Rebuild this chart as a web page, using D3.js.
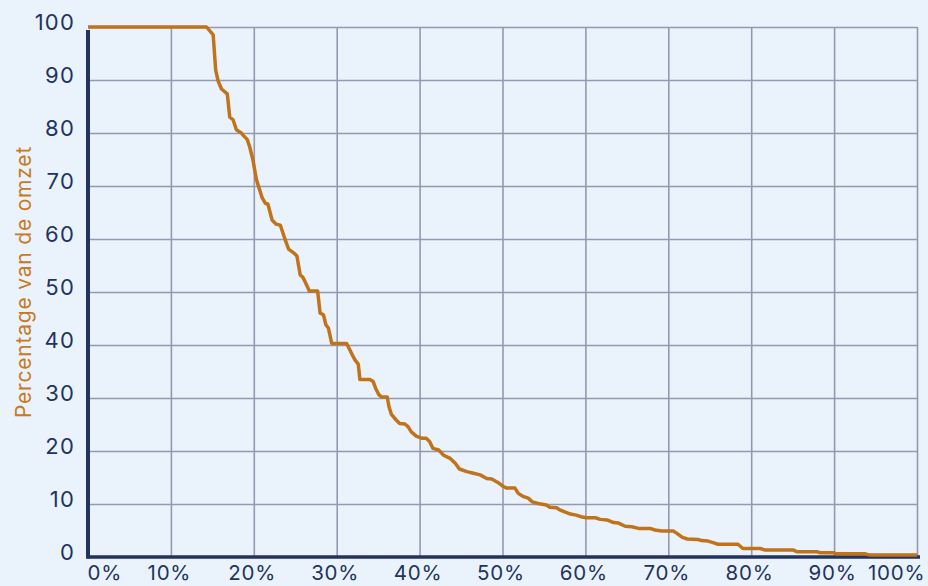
<!DOCTYPE html>
<html>
<head>
<meta charset="utf-8">
<script src="https://cdn.jsdelivr.net/npm/d3@7"></script>
<style>
  html, body { margin: 0; padding: 0; background: #eaf3fb; }
  #chart { width: 928px; height: 586px; }
  text { font-family: Inter, "Open Sans", sans-serif; }
</style>
</head>
<body>
<div id="chart"></div>
<script>
// Share of customers (x, %) vs share of turnover (y, %)
const xPct = [0, 14.3, 15.1, 15.4, 15.7, 16.1, 16.8, 17.1, 17.5, 17.9, 18.5, 18.7, 19.2, 19.5, 19.9,
  20.3, 21.0, 21.4, 21.7, 22.2, 22.7, 23.2, 23.8, 24.2, 24.8, 25.2, 25.6, 25.9, 26.2, 26.7, 27.7,
  28.0, 28.4, 28.7, 29.0, 29.4, 31.2, 31.8, 32.2, 32.6, 32.8, 34.0, 34.4, 34.7, 35.1, 35.4, 36.1,
  36.3, 36.6, 37.2, 37.6, 38.2, 38.6, 39.0, 39.6, 40.3, 40.8, 41.2, 41.6, 42.3, 42.9, 43.3, 43.7,
  44.3, 44.8, 45.7, 46.5, 47.3, 48.1, 48.7, 49.6, 50.1, 50.5, 51.5, 51.9, 52.4, 53.1, 53.6, 54.3,
  55.3, 55.7, 56.5, 56.9, 57.5, 58.2, 58.9, 59.5, 60.1, 61.2, 61.8, 62.6, 63.4, 64.0, 64.8, 65.6,
  66.4, 67.8, 68.4, 69.2, 70.6, 71.0, 71.7, 72.3, 73.6, 74.0, 74.8, 75.4, 76.0, 78.4, 79.0, 81.1,
  81.7, 85.1, 85.5, 87.9, 88.3, 89.9, 90.3, 93.7, 94.2, 100];
const yOmzet = [100, 100, 98.5, 91.9, 89.8, 88.3, 87.4, 83.0, 82.5, 80.6, 80.0, 79.6, 78.8, 77.4, 74.9,
  71.3, 67.8, 66.7, 66.6, 63.6, 62.8, 62.6, 59.8, 58.1, 57.4, 56.8, 53.2, 52.8, 51.9, 50.2, 50.2,
  46.0, 45.7, 43.8, 43.2, 40.3, 40.3, 38.4, 37.2, 36.4, 33.5, 33.5, 33.1, 31.8, 30.6, 30.2, 30.2,
  28.4, 26.9, 25.8, 25.2, 25.1, 24.6, 23.6, 22.8, 22.4, 22.4, 21.8, 20.5, 20.2, 19.2, 18.9, 18.6,
  17.7, 16.6, 16.1, 15.8, 15.5, 14.8, 14.7, 13.9, 13.3, 13.0, 13.0, 12.0, 11.5, 11.1, 10.4, 10.1,
  9.8, 9.4, 9.3, 8.9, 8.5, 8.1, 7.9, 7.6, 7.4, 7.4, 7.1, 7.0, 6.5, 6.4, 5.8, 5.7,
  5.4, 5.4, 5.1, 4.9, 4.9, 4.5, 3.7, 3.4, 3.3, 3.1, 3.0, 2.7, 2.4, 2.4, 1.6, 1.6,
  1.3, 1.3, 1.0, 1.0, 0.8, 0.8, 0.6, 0.6, 0.4, 0.4];

const xTicks = [0, 10, 20, 30, 40, 50, 60, 70, 80, 90, 100];
const xTickLabels = ['0%', '10%', '20%', '30%', '40%', '50%', '60%', '70%', '80%', '90%', '100%'];
const yTicks = [0, 10, 20, 30, 40, 50, 60, 70, 80, 90, 100];
const yTitle = 'Percentage van de omzet';

const width = 928, height = 586;
const margin = { top: 27, right: 11, bottom: 29, left: 88 };
const chartWidth = width - margin.left - margin.right;
const chartHeight = height - margin.top - margin.bottom;

const navy = '#22335e';
const gridColor = '#9598b2';
const lineColor = '#c0731a';

const svg = d3.select('#chart')
  .append('svg')
  .attr('width', width)
  .attr('height', height)
  .style('background', '#eaf3fb');

const g = svg.append('g')
  .attr('transform', `translate(${margin.left},${margin.top})`);

const x = d3.scaleLinear().domain([0, 100]).range([0, chartWidth]);
const y = d3.scaleLinear().domain([0, 100]).range([chartHeight, 0]);

// vertical gridlines
g.append('g')
  .attr('transform', `translate(0,${chartHeight})`)
  .call(d3.axisBottom(x).tickValues(xTicks.slice(1)).tickSize(-chartHeight).tickFormat(''))
  .call(a => a.select('.domain').remove())
  .call(a => a.selectAll('line').attr('stroke', gridColor).attr('stroke-width', 1.6));

// horizontal gridlines
g.append('g')
  .call(d3.axisLeft(y).tickValues(yTicks.slice(1)).tickSize(-chartWidth).tickFormat(''))
  .call(a => a.select('.domain').remove())
  .call(a => a.selectAll('line').attr('stroke', gridColor).attr('stroke-width', 1.6));

// y tick labels (sit a little above their gridline)
g.append('g')
  .call(d3.axisLeft(y).tickValues(yTicks).tickSize(0).tickPadding(13))
  .call(a => a.select('.domain').remove())
  .call(a => a.selectAll('text')
    .attr('fill', navy)
    .attr('dy', '0.1em')
    .style('font-size', '22px')
    .style('letter-spacing', '1.2px'));

// x tick labels
g.append('g')
  .attr('transform', `translate(0,${chartHeight})`)
  .call(d3.axisBottom(x).tickValues(xTicks).tickSize(0).tickPadding(8)
    .tickFormat((d, i) => xTickLabels[i]))
  .call(a => a.select('.domain').remove())
  .call(a => a.selectAll('text')
    .attr('fill', navy)
    .style('font-size', '20.5px')
    .style('letter-spacing', '0.8px')
    .attr('text-anchor', (d, i) => i === 0 ? 'start' : (i === xTicks.length - 1 ? 'end' : 'middle'))
    .attr('dx', (d, i) => i === 0 ? -1 : (i === xTicks.length - 1 ? 8 : -2)));

// axis lines
g.append('line')
  .attr('x1', 0).attr('x2', 0)
  .attr('y1', 3).attr('y2', chartHeight + 1.5)
  .attr('stroke', navy).attr('stroke-width', 4);

g.append('line')
  .attr('x1', -1.5).attr('x2', chartWidth + 3)
  .attr('y1', chartHeight).attr('y2', chartHeight)
  .attr('stroke', navy).attr('stroke-width', 3.5);

// y-axis title
svg.append('text')
  .attr('transform', `translate(31,282) rotate(-90)`)
  .attr('text-anchor', 'middle')
  .attr('fill', '#c87a1e')
  .style('font-size', '21px')
  .style('letter-spacing', '0.8px')
  .text(yTitle);

// curve
const line = d3.line()
  .x(i => x(xPct[i]))
  .y(i => y(yOmzet[i]));

g.append('path')
  .datum(d3.range(xPct.length))
  .attr('d', line)
  .attr('fill', 'none')
  .attr('stroke', lineColor)
  .attr('stroke-width', 3.5)
  .attr('stroke-linejoin', 'round');
</script>
</body>
</html>
